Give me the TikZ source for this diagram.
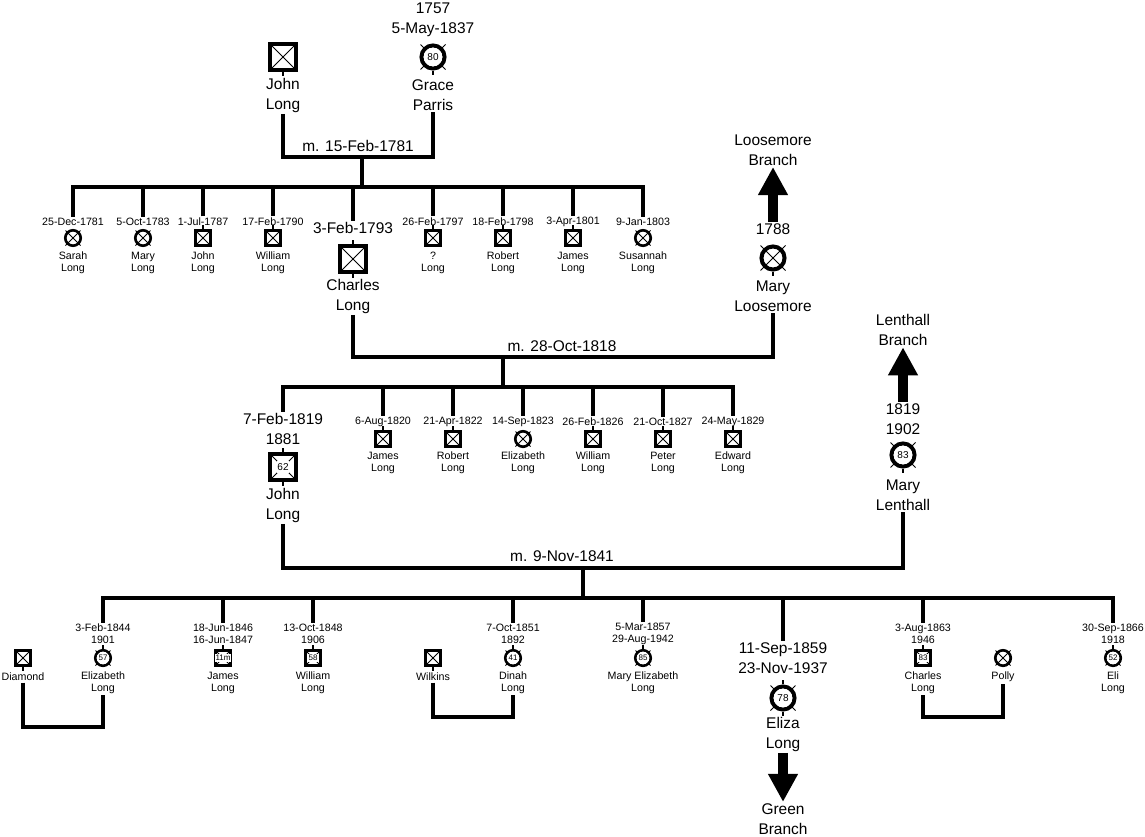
\documentclass[tikz,border=0pt]{standalone}
\usepackage{fontspec}
\setmainfont{Liberation Sans}
\usetikzlibrary{arrows.meta,calc}

\begin{document}
\begin{tikzpicture}[
        x=0.75pt, y=-0.75pt,
        line/.style={line width=3pt},
        xline/.style={line width=0.6pt},
        branch/.style={line width=7.5pt, -{Triangle[width=21pt,length=21pt]}},
        bigtxt/.style={font=\fontsize{11.6}{15}\selectfont, align=center, inner sep=1pt},
        smalltxt/.style={font=\fontsize{8}{8.8}\selectfont, align=center, inner sep=1pt},
        msym/.style={rectangle, draw, line width=1.6pt, minimum size=11.25pt, inner sep=0pt,
            path picture={\draw[xline] (path picture bounding box.north west) -- (path picture bounding box.south east)
                (path picture bounding box.north east) -- (path picture bounding box.south west);}},
        bigm/.style={msym, line width=3pt, minimum size=19pt},
        fsym/.style={circle, draw, line width=2pt, minimum size=11.6pt, inner sep=0pt,
            append after command={($(\tikzlastnode.center)+(-7.5,-7.5)$) edge[xline] ($(\tikzlastnode.center)+(7.5,7.5)$)
                ($(\tikzlastnode.center)+(7.5,-7.5)$) edge[xline] ($(\tikzlastnode.center)+(-7.5,7.5)$)}},
        bigf/.style={circle, draw, line width=3pt, minimum size=17.3pt, inner sep=0pt,
            append after command={($(\tikzlastnode.center)+(-12.5,-12.5)$) edge[xline] ($(\tikzlastnode.center)+(12.5,12.5)$)
                ($(\tikzlastnode.center)+(12.5,-12.5)$) edge[xline] ($(\tikzlastnode.center)+(-12.5,12.5)$)}},
        stubt/.style={append after command={(\tikzlastnode.north) edge[line width=2pt] ($(\tikzlastnode.north)+(0,-4)$)}},
        stubb/.style={append after command={(\tikzlastnode.south) edge[line width=2pt] ($(\tikzlastnode.south)+(0,4)$)}},
        agef/.style={circle, fill=white, inner sep=0pt, minimum size=9.4pt, font=\fontsize{6}{6}\selectfont},
        agebf/.style={circle, fill=white, inner sep=0pt, minimum size=14pt, font=\fontsize{7.5}{7.5}\selectfont},
        agem/.style={rectangle, fill=white, inner sep=0.4pt, minimum size=6pt, font=\fontsize{6}{6}\selectfont},
        agebm/.style={rectangle, fill=white, inner sep=0.5pt, minimum size=9pt, font=\fontsize{7.5}{7.5}\selectfont}
    ]
        \useasboundingbox (0,0) rectangle (1145,836);

        % first generation
        \node[bigm, stubb] (jl) at (283,57) {};
        \node[bigtxt] (jlname) at (283,95) {John\\Long};
        \node[bigtxt] (gpdates) at (433,20) {1757\\5-May-1837};
        \node[bigf, stubb] (gp) at (433,57) {};
        \node[agebf] at (gp) {80};
        \node[bigtxt] (gpname) at (433,95) {Grace\\Parris};
        \coordinate (m1) at (362,157);
        \coordinate (b1) at (362,187);
        \draw[line] (jlname.south) |- (m1) -| (gpname.south);
        \node[bigtxt] at (358,146) {m. 15-Feb-1781};
        \draw[line] (m1) -- (b1);

        % their children
        \foreach \x/\dt/\nm in {203/1-Jul-1787/John, 273/17-Feb-1790/William, 433/26-Feb-1797/?,
                                503/18-Feb-1798/Robert, 573/3-Apr-1801/James} {
            \node[smalltxt] (ad\x) at (\x,222) {\dt};
            \node[msym, stubt] (as\x) at (\x,238) {};
            \node[smalltxt] (an\x) at (\x,263) {\nm\\Long};
            \draw[line] (ad\x.north) |- (b1);
        }
        \foreach \x/\dt/\nm in {73/25-Dec-1781/Sarah, 143/5-Oct-1783/Mary, 643/9-Jan-1803/Susannah} {
            \node[smalltxt] (ad\x) at (\x,222) {\dt};
            \node[fsym] (as\x) at (\x,238) {};
            \node[smalltxt] (an\x) at (\x,263) {\nm\\Long};
            \draw[line] (ad\x.north) |- (b1);
        }
        \node[bigtxt] (chdate) at (353,228) {3-Feb-1793};
        \node[bigm, stubt, stubb] (ch) at (353,259) {};
        \node[bigtxt] (chname) at (353,296) {Charles\\Long};
        \draw[line] (chdate.north) |- (b1);

        % Loosemore
        \node[bigtxt] (lbranch) at (773,150) {Loosemore\\Branch};
        \node[bigtxt] (mldate) at (773,229) {1788};
        \node[bigf, stubb] (ml) at (773,258) {};
        \node[bigtxt] (mlname) at (773,296) {Mary\\Loosemore};
        \draw[branch] (mldate.north) -- (lbranch.south);

        \coordinate (m2) at (503,357);
        \coordinate (b2) at (503,387);
        \draw[line] (chname.south) |- (m2) -| (mlname.south);
        \node[bigtxt] at (562,346) {m. 28-Oct-1818};
        \draw[line] (m2) -- (b2);

        % second generation
        \node[bigtxt] (jdate) at (283,429) {7-Feb-1819\\1881};
        \node[bigm, stubt, stubb] (jn) at (283,467) {};
        \node[agebm] at (jn) {62};
        \node[bigtxt] (jname) at (283,505) {John\\Long};
        \draw[line] (jdate.north) |- (b2);
        \foreach \x/\dt/\nm in {383/6-Aug-1820/James, 453/21-Apr-1822/Robert, 593/26-Feb-1826/William,
                                663/21-Oct-1827/Peter, 733/24-May-1829/Edward} {
            \node[smalltxt] (bd\x) at (\x,422) {\dt};
            \node[msym, stubt] (bs\x) at (\x,439) {};
            \node[smalltxt] (bn\x) at (\x,463) {\nm\\Long};
            \draw[line] (bd\x.north) |- (b2);
        }
        \node[smalltxt] (bd523) at (523,422) {14-Sep-1823};
        \node[fsym] (bs523) at (523,439) {};
        \node[smalltxt] (bn523) at (523,463) {Elizabeth\\Long};
        \draw[line] (bd523.north) |- (b2);

        % Lenthall
        \node[bigtxt] (lenbranch) at (903,330) {Lenthall\\Branch};
        \node[bigtxt] (mlendate) at (903,419) {1819\\1902};
        \node[bigf, stubb] (mlen) at (903,455) {};
        \node[agebf] at (mlen) {83};
        \node[bigtxt] (mlenname) at (903,495) {Mary\\Lenthall};
        \draw[branch] (mlendate.north) -- (lenbranch.south);

        \coordinate (m3) at (583,568);
        \coordinate (b3) at (583,598);
        \draw[line] (jname.south) |- (m3) -| (mlenname.south);
        \node[bigtxt] at (562,556) {m. 9-Nov-1841};
        \draw[line] (m3) -- (b3);

        % third generation
        \foreach \x/\born/\died/\age/\nm in {223/18-Jun-1846/16-Jun-1847/11m/James,
                313/13-Oct-1848/1906/58/William, 923/3-Aug-1863/1946/83/Charles} {
            \node[smalltxt] (cd\x) at (\x,634) {\born\\\died};
            \node[msym, stubt, line width=2.2pt] (cs\x) at (\x,658) {};
            \node[agem] at (cs\x) {\age};
            \node[smalltxt] (cn\x) at (\x,683) {\nm\\Long};
            \draw[line] (cd\x.north) |- (b3);
        }
        \foreach \x/\born/\died/\age/\nm in {103/3-Feb-1844/1901/57/Elizabeth, 513/7-Oct-1851/1892/41/Dinah,
                643/5-Mar-1857/29-Aug-1942/85/Mary Elizabeth, 1113/30-Sep-1866/1918/52/Eli} {
            \node[smalltxt] (cd\x) at (\x,634) {\born\\\died};
            \node[fsym, stubt] (cs\x) at (\x,658) {};
            \node[agef] at (cs\x) {\age};
            \node[smalltxt] (cn\x) at (\x,683) {\nm\\Long};
            \draw[line] (cd\x.north) |- (b3);
        }
        \node[bigtxt] (edate) at (783,658) {11-Sep-1859\\23-Nov-1937};
        \node[bigf, stubt, stubb] (el) at (783,698) {};
        \node[agebf] at (el) {78};
        \node[bigtxt] (elname) at (783,734) {Eliza\\Long};
        \draw[line] (edate.north) |- (b3);
        \node[bigtxt] (gbranch) at (783,819) {Green\\Branch};
        \draw[branch] (elname.south) -- (gbranch.north);

        % spouses
        \node[msym, stubb] (dia) at (23,658) {};
        \node[smalltxt] (dianame) at (23,677) {Diamond};
        \coordinate (w1) at (63,727);
        \draw[line] (dianame.south) |- (w1) -| (cn103.south);
        \node[msym, stubb] (wil) at (433,658) {};
        \node[smalltxt] (wilname) at (433,677) {Wilkins};
        \coordinate (w2) at (473,717);
        \draw[line] (wilname.south) |- (w2) -| (cn513.south);
        \node[fsym] (pol) at (1003,658) {};
        \node[smalltxt] (polname) at (1003,677) {Polly};
        \coordinate (w3) at (963,717);
        \draw[line] (cn923.south) |- (w3) -| (polname.south);
    \end{tikzpicture}
\end{document}
